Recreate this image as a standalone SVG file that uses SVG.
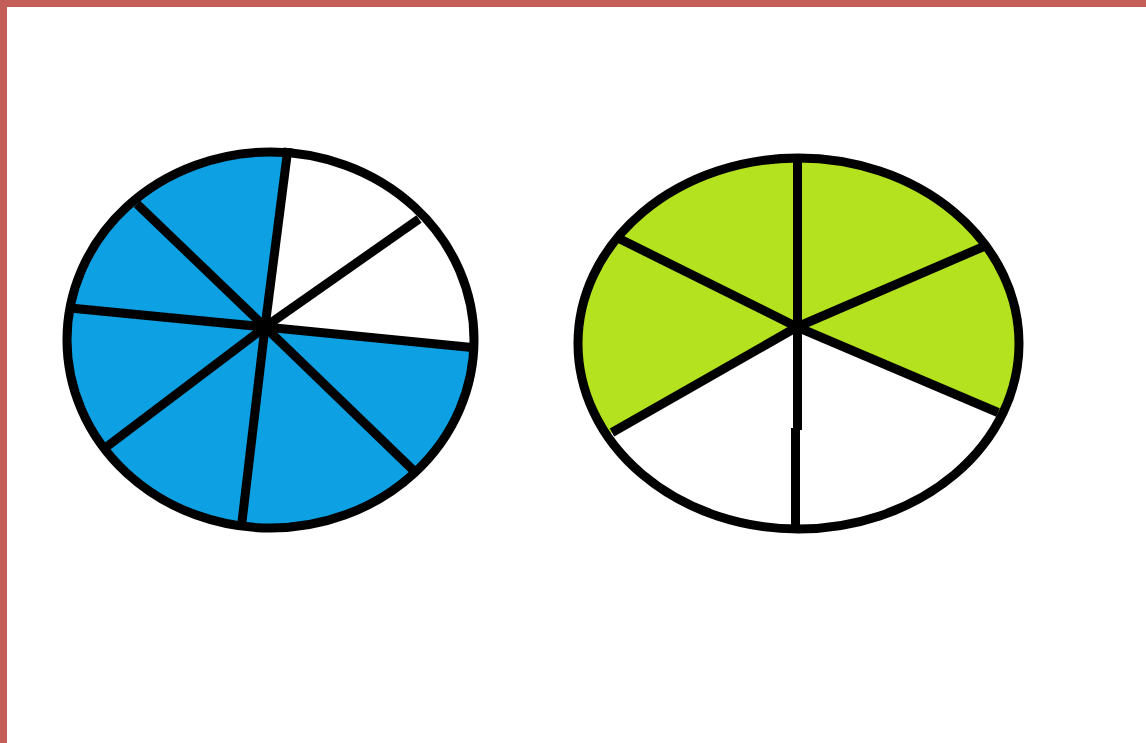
<svg xmlns="http://www.w3.org/2000/svg" width="1146" height="743" viewBox="0 0 1146 743">
  <style>
    .spoke { stroke: #000; stroke-width: 9; stroke-linecap: butt; fill: none; }
    .rim { stroke: #000; stroke-width: 9; fill: none; }
    .blank { fill: #FFFFFF; }
  </style>
  <defs>
    <clipPath id="clipLeft"><ellipse cx="270.5" cy="340" rx="203.5" ry="188"/></clipPath>
    <clipPath id="clipRight"><ellipse cx="798.5" cy="343.5" rx="220.5" ry="185.5"/></clipPath>
  </defs>
  <rect x="0" y="0" width="1146" height="743" fill="#FFFFFF"/>
  <g id="frame" fill="#C45E59">
    <rect x="0" y="0" width="1146" height="7"/>
    <rect x="0" y="0" width="7" height="743"/>
  </g>
  <g id="pie-left">
    <ellipse cx="270.5" cy="340" rx="203.5" ry="188" fill="#0DA0E3"/>
    <polygon class="blank" clip-path="url(#clipLeft)" points="265,327 294.5,97 520,97 520,352.3"/>
    <g class="spoke">
      <line x1="265" y1="327" x2="288" y2="148"/>
      <line x1="265" y1="327" x2="419" y2="219"/>
      <line x1="265" y1="327" x2="472" y2="347.5"/>
      <line x1="265" y1="327" x2="413" y2="470"/>
      <line x1="265" y1="327" x2="241.5" y2="526"/>
      <line x1="265" y1="327" x2="105" y2="448"/>
      <line x1="265" y1="327" x2="70" y2="308"/>
      <line x1="265" y1="327" x2="137" y2="204"/>
    </g>
    <ellipse class="rim" cx="270.5" cy="340" rx="203.5" ry="188"/>
  </g>
  <g id="pie-right">
    <ellipse cx="798.5" cy="343.5" rx="220.5" ry="185.5" fill="#B4E21E"/>
    <polygon class="blank" clip-path="url(#clipRight)" points="797,327 1040,430.3 1040,560 560,560 560,462.3"/>
    <g class="spoke">
      <line x1="797.5" y1="156" x2="797.5" y2="327"/>
      <line x1="797" y1="327" x2="985" y2="246"/>
      <line x1="797" y1="327" x2="998" y2="412.5"/>
      <line x1="797.5" y1="323" x2="797.5" y2="430"/>
      <line x1="795.5" y1="428" x2="795.5" y2="530"/>
      <line x1="797" y1="327" x2="612" y2="432.5"/>
      <line x1="797" y1="327" x2="620" y2="239"/>
    </g>
    <ellipse class="rim" cx="798.5" cy="343.5" rx="220.5" ry="185.5"/>
  </g>
</svg>
